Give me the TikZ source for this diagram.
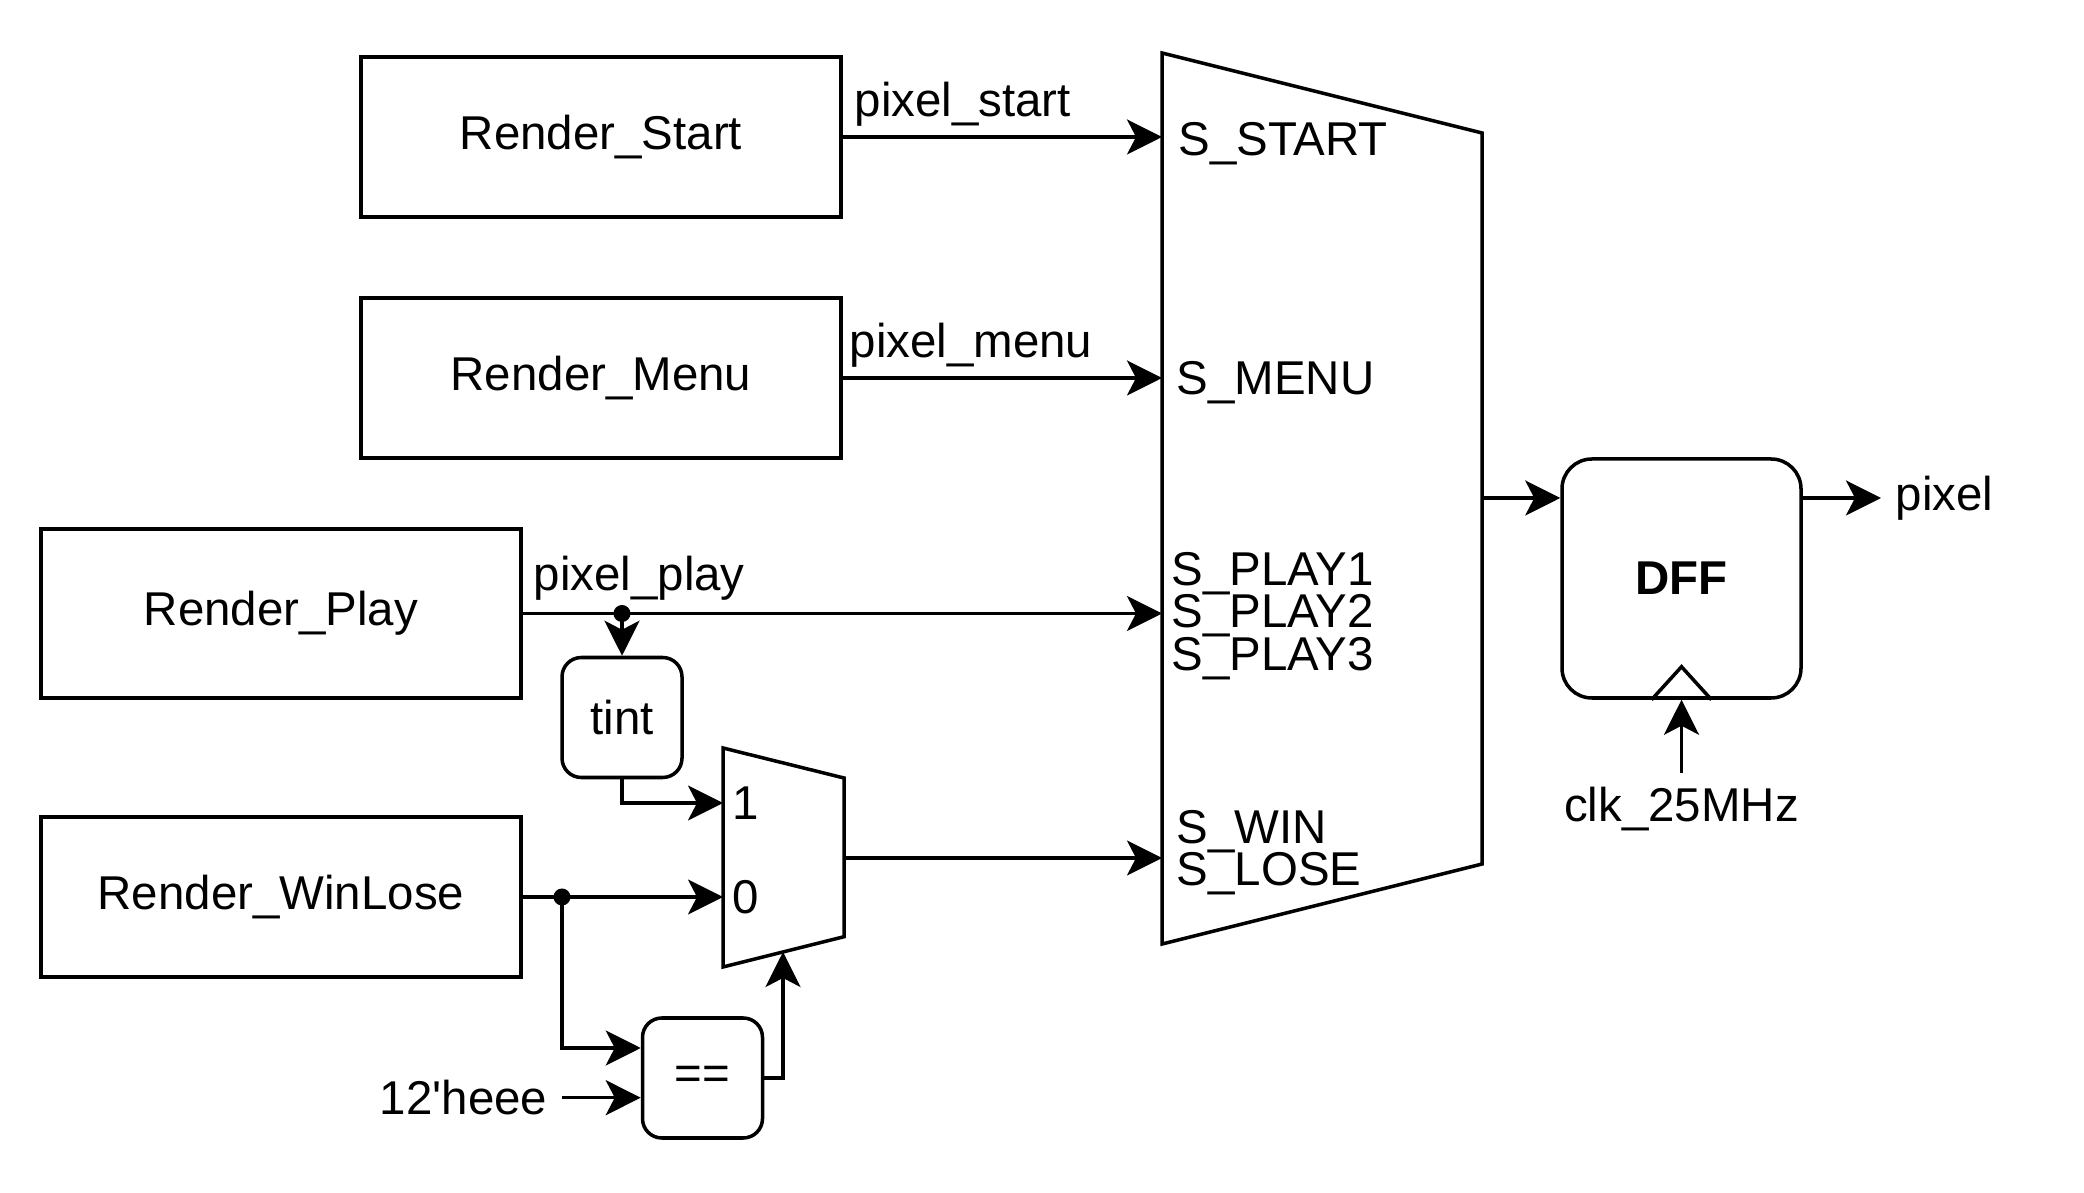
\documentclass[tikz,border=0pt]{standalone}
\usepackage{fontspec}
\setmainfont{Liberation Sans}
\usetikzlibrary{arrows.meta, positioning, calc}
\newcommand{\tightlines}{\fontsize{13.5pt}{12pt}\selectfont\lineskiplimit=-20pt\relax}

\begin{document}
\begin{tikzpicture}[
  font=\fontsize{13.5pt}{16pt}\selectfont,
  line width=1pt,
  block/.style={draw, minimum width=4.8cm, minimum height=1.6cm, inner sep=0pt},
  op/.style={draw, rounded corners=5.5pt, minimum width=1.2cm, minimum height=1.2cm, inner sep=0pt},
  wire/.style={-{Stealth[length=3.5mm, width=3.5mm, inset=0.9mm]}},
  lbl/.style={inner sep=0pt, anchor=west},
  stack/.style={lbl, align=left, font=\tightlines},
  junction/.style={circle, fill, inner sep=0pt, minimum size=1.7mm}
]
  \useasboundingbox (0,0) rectangle (20.84,11.92);

  % Render blocks
  \node[block] (start) at (6.01, 10.55) {Render\_Start};
  \node[block] (menu) at (6.01, 8.14) {Render\_Menu};
  \node[block, minimum height=1.69cm] (play) at (2.81, 5.785) {Render\_Play};
  \node[block] (winlose) at (2.81, 2.95) {Render\_WinLose};

  % State multiplexer
  \draw (11.62, 11.39) -- (14.82, 10.59) -- (14.82, 3.28) -- (11.62, 2.48) -- cycle;
  \coordinate (mstart) at (11.62, 10.55);
  \coordinate (mmenu) at (11.62, 8.14);
  \coordinate (mplay) at (11.62, 5.785);
  \coordinate (mwin) at (11.62, 3.34);
  \coordinate (mout) at (14.82, 6.94);
  \node[lbl] (sstart) at (11.77, 10.48) {S\_START};
  \node[lbl] (smenu) at (11.75, 8.09) {S\_MENU};
  \node[stack] (splay) at (11.70, 5.76) {S\_PLAY1\\S\_PLAY2\\S\_PLAY3};
  \node[stack] (swin) at (11.75, 3.39) {S\_WIN\\S\_LOSE};

  % Output register
  \node[draw, rounded corners=8.5pt, minimum width=2.39cm, minimum height=2.39cm, font=\fontsize{13.5pt}{16pt}\selectfont\bfseries] (dff) at (16.815, 6.135) {DFF};
  \draw ($(dff.south)+(-0.3,0)$) -- ++(0.3,0.33) -- ++(0.3,-0.33);
  \node[lbl, inner sep=0.13cm] (pixel) at (18.81, 6.94) {pixel};
  \node[inner sep=0.12cm] (clk) at (16.815, 3.83) {clk\_25MHz};

  % Win/lose path
  \node[op] (tint) at (6.22, 4.745) {tint};
  \draw (7.23, 4.44) -- (8.44, 4.14) -- (8.44, 2.553) -- (7.23, 2.25) -- cycle;
  \coordinate (sone) at (7.23, 3.89);
  \coordinate (szero) at (7.23, 2.95);
  \coordinate (ssel) at (7.83, 2.40);
  \coordinate (sout) at (8.44, 3.34);
  \node (one) at (7.46, 3.89) {1};
  \node (zero) at (7.46, 2.95) {0};
  \node[op] (eq) at (7.025, 1.14) {==};
  \node[anchor=east, inner sep=0.13cm] (heee) at (5.62, 0.943) {12\textquotesingle heee};

  % Wires
  \draw[wire] (start.east) -- (mstart);
  \node[lbl] at (8.53, 10.88) {pixel\_start};
  \draw[wire] (menu.east) -- (mmenu);
  \node[lbl] at (8.48, 8.47) {pixel\_menu};
  \draw[wire] (play.east) -- (mplay);
  \node[lbl] at (5.32, 6.14) {pixel\_play};
  \node[junction] (jplay) at (tint.north |- play.east) {};
  \draw[wire] (jplay.center) -- (tint.north);
  \draw[wire] (tint.south) |- (sone);
  \node[junction] (jwin) at (5.62, 2.95) {};
  \draw[wire] (winlose.east) -- (szero);
  \draw[wire] (jwin.center) |- ($(eq.west)+(0,0.30)$);
  \draw[wire] (heee.east) -- ($(eq.west)+(0,-0.197)$);
  \draw[wire] (eq.east) -| (ssel);
  \draw[wire] (sout) -- (mwin);
  \draw[wire] (mout) -- (mout -| dff.west);
  \draw[wire] (mout -| dff.east) -- (pixel.west);
  \draw[wire] (clk.north) -- (dff.south);
\end{tikzpicture}
\end{document}
